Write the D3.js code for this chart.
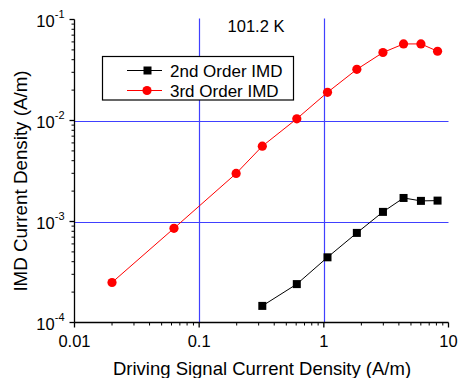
<!DOCTYPE html>
<html>
<head>
<meta charset="utf-8">
<script src="https://cdn.jsdelivr.net/npm/d3@7"></script>
<style>
  body { margin: 0; background: #fff; }
  text { font-family: "Liberation Sans", Arial, sans-serif; fill: #000; }
</style>
</head>
<body>
<div id="chart"></div>
<script>
// drive current density (A/m), shared by both series
var xValues = [0.02, 0.0628, 0.198, 0.321, 0.607, 1.07, 1.84, 2.98, 4.36, 6.01, 8.17];
var thirdOrder = [2.49e-4, 8.56e-4, 2.99e-3, 5.57e-3, 1.04e-2, 1.9e-2, 3.21e-2, 4.71e-2, 5.73e-2, 5.73e-2, 4.85e-2];
var secondX = [0.321, 0.607, 1.07, 1.84, 2.98, 4.36, 6.01, 8.17];
var secondOrder = [1.46e-4, 2.40e-4, 4.42e-4, 7.71e-4, 1.245e-3, 1.71e-3, 1.60e-3, 1.61e-3];

var xTicks = [0.01, 0.1, 1, 10];
var xTickLabels = ['0.01', '0.1', '1', '10'];
var yTicks = [1e-4, 1e-3, 1e-2, 1e-1];
var yExps = ['-4', '-3', '-2', '-1'];
var gridX = [0.1, 1];
var gridY = [1e-3, 1e-2];

var graph = { width: 458, height: 378, left: 74.5, right: 448.5, top: 19.5, bottom: 322.5 };

var x = d3.scaleLog().domain([0.01, 10]).range([graph.left, graph.right]);
var y = d3.scaleLog().domain([1e-4, 1e-1]).range([graph.bottom, graph.top]);

var svg = d3.select('#chart').append('svg')
  .attr('width', graph.width)
  .attr('height', graph.height);

// minor ticks for each decade
function minors(lo, hi) {
  var out = [];
  for (var e = lo; e < hi; e++) {
    for (var m = 2; m <= 9; m++) out.push(m * Math.pow(10, e));
  }
  return out;
}

// grid lines
svg.append('g').selectAll('line.gx')
  .data(gridX).enter().append('line')
  .attr('x1', function(d) { return Math.round(x(d)) + 0.5; })
  .attr('x2', function(d) { return Math.round(x(d)) + 0.5; })
  .attr('y1', graph.top - 1)
  .attr('y2', graph.bottom)
  .attr('stroke', '#4040ff')
  .attr('stroke-width', 1.2);

svg.append('g').selectAll('line.gy')
  .data(gridY).enter().append('line')
  .attr('y1', function(d) { return Math.round(y(d)) + 0.5; })
  .attr('y2', function(d) { return Math.round(y(d)) + 0.5; })
  .attr('x1', graph.left)
  .attr('x2', graph.right)
  .attr('stroke', '#4040ff')
  .attr('stroke-width', 1.2);

// bottom axis
var xAxisG = svg.append('g')
  .attr('transform', 'translate(0,' + graph.bottom + ')');
xAxisG.append('line')
  .attr('x1', graph.left).attr('x2', graph.right)
  .attr('stroke', '#000').attr('stroke-width', 1.3);
xAxisG.selectAll('line.major').data(xTicks).enter().append('line')
  .attr('x1', function(d) { return x(d); }).attr('x2', function(d) { return x(d); })
  .attr('y1', 0).attr('y2', 5)
  .attr('stroke', '#000').attr('stroke-width', 1.3);
xAxisG.selectAll('line.minor').data(minors(-2, 1)).enter().append('line')
  .attr('x1', function(d) { return x(d); }).attr('x2', function(d) { return x(d); })
  .attr('y1', 0).attr('y2', 3)
  .attr('stroke', '#000').attr('stroke-width', 1);
xAxisG.selectAll('text').data(xTicks).enter().append('text')
  .attr('x', function(d) { return x(d); })
  .attr('y', 24.5)
  .attr('text-anchor', 'middle')
  .style('font-size', '16.5px')
  .text(function(d, i) { return xTickLabels[i]; });

// left axis
var yAxisG = svg.append('g')
  .attr('transform', 'translate(' + graph.left + ',0)');
yAxisG.append('line')
  .attr('y1', graph.top).attr('y2', graph.bottom)
  .attr('stroke', '#000').attr('stroke-width', 1.3);
yAxisG.selectAll('line.major').data(yTicks).enter().append('line')
  .attr('y1', function(d) { return y(d); }).attr('y2', function(d) { return y(d); })
  .attr('x1', 0).attr('x2', -5)
  .attr('stroke', '#000').attr('stroke-width', 1.3);
yAxisG.selectAll('line.minor').data(minors(-4, -1)).enter().append('line')
  .attr('y1', function(d) { return y(d); }).attr('y2', function(d) { return y(d); })
  .attr('x1', 0).attr('x2', -3)
  .attr('stroke', '#000').attr('stroke-width', 1);
var yLabels = yAxisG.selectAll('text').data(yTicks).enter().append('text')
  .attr('x', -10)
  .attr('y', function(d) { return y(d) + 7.5; })
  .attr('text-anchor', 'end')
  .style('font-size', '16.5px');
yLabels.append('tspan').text('10');
yLabels.append('tspan')
  .attr('dy', -9)
  .style('font-size', '11px')
  .text(function(d, i) { return yExps[i]; });

// axis titles
svg.append('text')
  .attr('x', (graph.left + graph.right) / 2 + 0.5)
  .attr('y', 375)
  .attr('text-anchor', 'middle')
  .style('font-size', '18.5px')
  .text('Driving Signal Current Density (A/m)');

svg.append('text')
  .attr('transform', 'translate(27,181) rotate(-90)')
  .attr('text-anchor', 'middle')
  .style('font-size', '18.8px')
  .text('IMD Current Density (A/m)');

svg.append('text')
  .attr('x', 256)
  .attr('y', 32.3)
  .attr('text-anchor', 'middle')
  .style('font-size', '16.5px')
  .text('101.2 K');

// series
var line = d3.line()
  .x(function(d) { return x(d[0]); })
  .y(function(d) { return y(d[1]); });

var thirdData = xValues.map(function(v, i) { return [v, thirdOrder[i]]; });
var secondData = secondX.map(function(v, i) { return [v, secondOrder[i]]; });

svg.append('path')
  .datum(thirdData)
  .attr('d', line)
  .attr('fill', 'none')
  .attr('stroke', '#ff0000')
  .attr('stroke-width', 1);

svg.append('g').selectAll('circle')
  .data(thirdData).enter().append('circle')
  .attr('cx', function(d) { return x(d[0]); })
  .attr('cy', function(d) { return y(d[1]); })
  .attr('r', 4.6)
  .attr('fill', '#ff0000');

svg.append('path')
  .datum(secondData)
  .attr('d', line)
  .attr('fill', 'none')
  .attr('stroke', '#000')
  .attr('stroke-width', 1);

svg.append('g').selectAll('rect')
  .data(secondData).enter().append('rect')
  .attr('x', function(d) { return x(d[0]) - 4; })
  .attr('y', function(d) { return y(d[1]) - 4; })
  .attr('width', 8)
  .attr('height', 8)
  .attr('fill', '#000');

// legend
var legend = svg.append('g');
legend.append('rect')
  .attr('x', 102.5).attr('y', 56.5)
  .attr('width', 191).attr('height', 43.5)
  .attr('fill', '#fff')
  .attr('stroke', '#000')
  .attr('stroke-width', 1.2);

var legendItems = [
  { label: '2nd Order IMD', color: '#000', shape: 'square', y: 70.5 },
  { label: '3rd Order IMD', color: '#ff0000', shape: 'circle', y: 90.5 }
];
legendItems.forEach(function(item) {
  legend.append('line')
    .attr('x1', 127).attr('x2', 162)
    .attr('y1', item.y).attr('y2', item.y)
    .attr('stroke', item.color).attr('stroke-width', 1);
  if (item.shape === 'square') {
    legend.append('rect')
      .attr('x', 143.5).attr('y', item.y - 4)
      .attr('width', 8).attr('height', 8)
      .attr('fill', item.color);
  } else {
    legend.append('circle')
      .attr('cx', 147).attr('cy', item.y)
      .attr('r', 4.6)
      .attr('fill', item.color);
  }
  legend.append('text')
    .attr('x', 170)
    .attr('y', item.y + 6)
    .style('font-size', '17px')
    .text(item.label);
});
</script>
</body>
</html>
